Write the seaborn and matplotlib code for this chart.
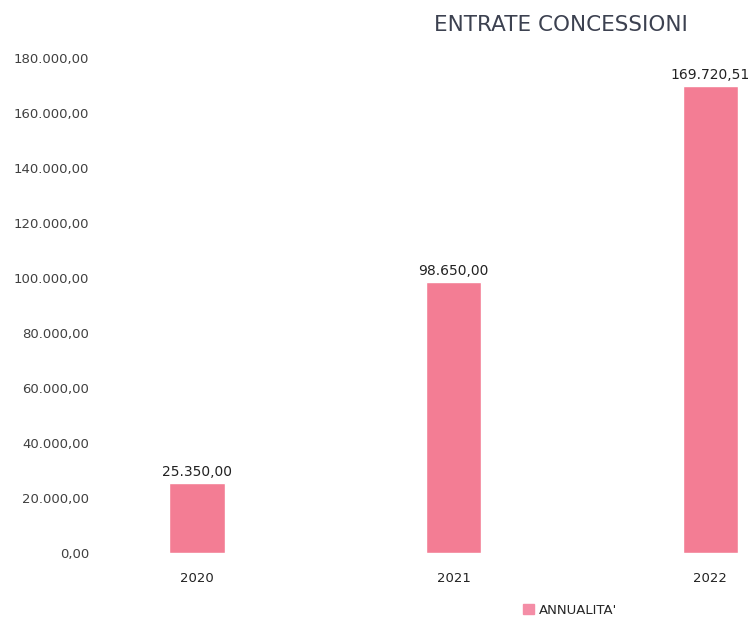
import matplotlib
matplotlib.use("Agg")
import matplotlib.pyplot as plt
import seaborn as sns
import pandas as pd
from matplotlib.patches import Patch
from matplotlib.ticker import FuncFormatter

years = ["2020", "2021", "2022"]
values = [25350.00, 98650.00, 169720.51]
series_name = "ANNUALITA'"
title = "ENTRATE CONCESSIONI"

def it_fmt(v, pos=None):
    s = f"{v:,.2f}"
    return s.replace(",", "X").replace(".", ",").replace("X", ".")

df = pd.DataFrame({"year": years, "value": values})

sns.set_theme(style="white")
plt.rcParams["font.family"] = ["DejaVu Sans"]

fig = plt.figure(figsize=(7.54, 6.29), dpi=100)
ax = fig.add_axes([100/754, (629-553)/629, (754-100)/754, (553-58)/629])

bar_color = "#F37D94"
sns.barplot(data=df, x="year", y="value", color=bar_color, width=0.215,
            ax=ax, saturation=1)

ax.set_xlim(-0.378, 2.17)
ax.set_ylim(0, 180000)
ax.set_yticks(range(0, 180001, 20000))
ax.yaxis.set_major_formatter(FuncFormatter(it_fmt))
ax.tick_params(axis="y", labelsize=9.5, colors="#404040", pad=8, length=0)
ax.tick_params(axis="x", labelsize=9.5, colors="#222222", pad=14, length=0)
ax.set_xlabel("")
ax.set_ylabel("")
for s in ax.spines.values():
    s.set_visible(False)

ax.bar_label(ax.containers[0], labels=[it_fmt(v) for v in values],
             fontsize=10, color="#222222", padding=3)

fig.text(561/754, 1 - 25/629, title, ha="center", va="center",
         fontsize=15.5, color="#3c4150")

fig.legend(handles=[Patch(color="#F48DA6", label=series_name)],
           loc="center", bbox_to_anchor=(570/754, 1 - 610/629),
           frameon=False, fontsize=9.5, handlelength=0.8, handleheight=0.8,
           handletextpad=0.4)

fig.savefig("out.png", dpi=100)
